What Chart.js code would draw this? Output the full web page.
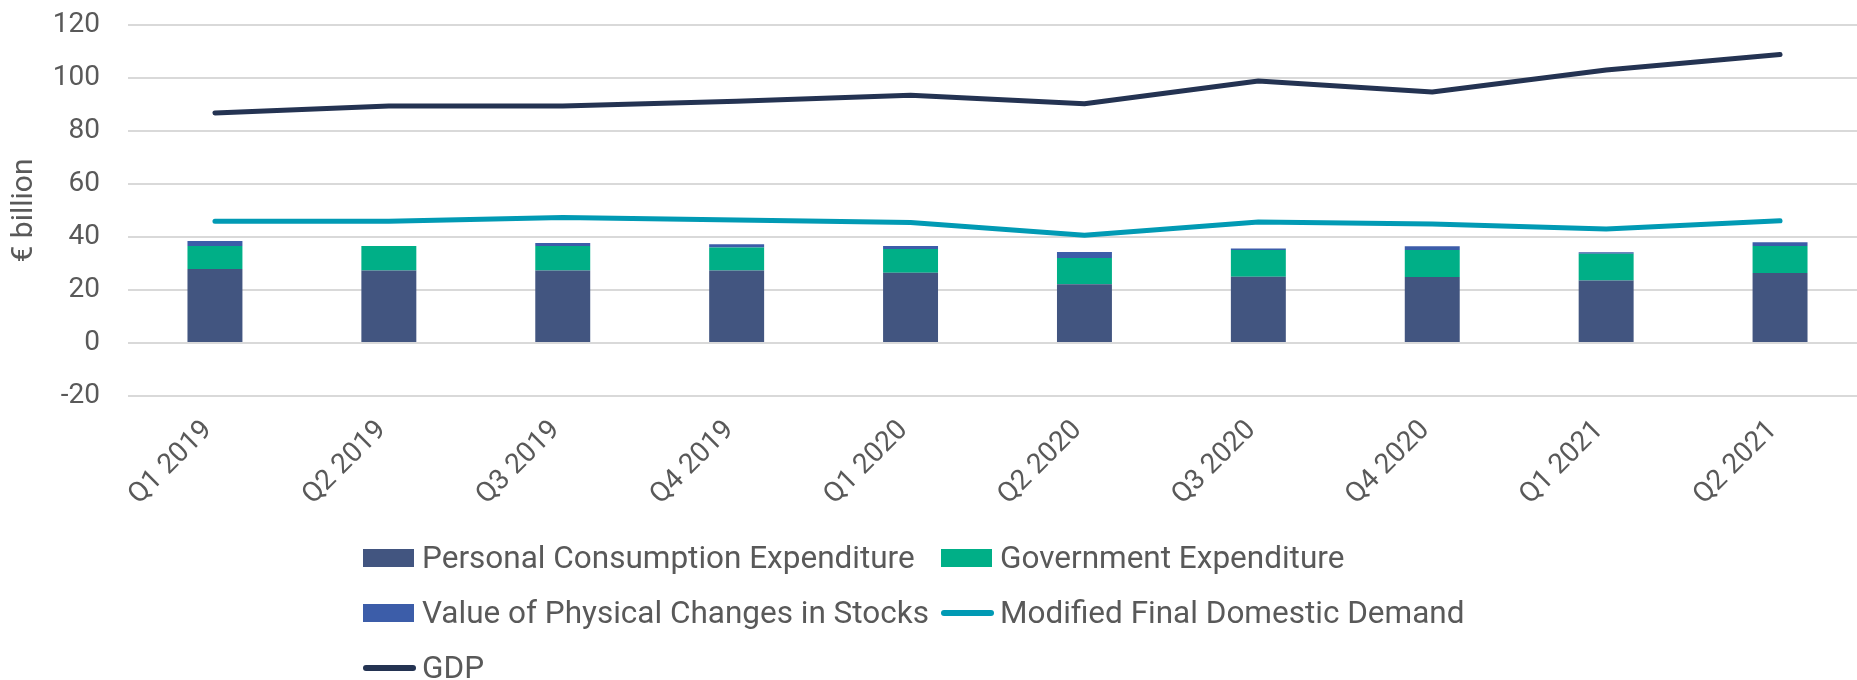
<!DOCTYPE html>
<html>
<head>
<meta charset="utf-8">
<script src="https://cdn.jsdelivr.net/npm/chart.js@4/dist/chart.umd.min.js"></script>
<style>
    body { margin: 0; background: #fff; }
    #wrap { position: relative; width: 1857px; height: 680px; overflow: hidden; }
    #chart { position: absolute; left: 0; top: 0; }
    .leg { position: absolute; font-family: Roboto, sans-serif; font-size: 31.5px; color: #595959; white-space: nowrap; line-height: 36px; }
    .leg .sw { position: absolute; left: 0; }
    .leg span.txt { position: absolute; left: 59px; top: -18px; }
</style>
</head>
<body>
<div id="wrap">
    <canvas id="chart" width="1867" height="680"></canvas>
    <div id="legend"></div>
</div>
<script>
const quarters = ['Q1 2019', 'Q2 2019', 'Q3 2019', 'Q4 2019', 'Q1 2020', 'Q2 2020', 'Q3 2020', 'Q4 2020', 'Q1 2021', 'Q2 2021'];

// € billion
const consumption = [27.9, 27.4, 27.4, 27.4, 26.5, 22.2, 25.0, 24.9, 23.6, 26.4];
const government  = [8.7, 9.2, 9.2, 8.6, 9.0, 9.9, 10.1, 10.2, 10.1, 10.2];
const stocks      = [1.9, 0, 1.1, 1.3, 1.1, 2.2, 0.6, 1.4, 0.5, 1.4];
const mfdd        = [45.9, 45.9, 47.4, 46.4, 45.5, 40.7, 45.7, 44.9, 43.0, 46.1];
const gdp         = [86.8, 89.4, 89.4, 91.2, 93.5, 90.3, 98.9, 94.7, 103.0, 108.9];

const yTicks = [-20, 0, 20, 40, 60, 80, 100, 120];

const names = ['Personal Consumption Expenditure', 'Government Expenditure', 'Value of Physical Changes in Stocks', 'Modified Final Domestic Demand', 'GDP'];
const colors = ['#425580', '#00AF87', '#3C5DA9', '#019AB4', '#243352'];

const grey = '#595959';
const font = 'Roboto';

function barSet(i, data) {
    return {
        type: 'bar',
        label: names[i],
        data: data,
        backgroundColor: colors[i],
        borderWidth: 0,
        stack: 'parts',
        order: 2,
        categoryPercentage: 1,
        barPercentage: 0.316
    };
}

function lineSet(i, data) {
    return {
        type: 'line',
        label: names[i],
        data: data,
        borderColor: colors[i],
        backgroundColor: colors[i],
        borderWidth: 5,
        borderCapStyle: 'round',
        borderJoinStyle: 'round',
        pointRadius: 0,
        tension: 0,
        stack: 'line' + i,
        order: 1
    };
}

const ctx = document.getElementById('chart');

new Chart(ctx, {
    data: {
        labels: quarters,
        datasets: [
            barSet(0, consumption),
            barSet(1, government),
            barSet(2, stocks),
            lineSet(3, mfdd),
            lineSet(4, gdp)
        ]
    },
    options: {
        responsive: false,
        animation: false,
        layout: { padding: { top: 25, left: 0, right: 0, bottom: 0 } },
        plugins: {
            legend: { display: false },
            tooltip: { enabled: false }
        },
        scales: {
            x: {
                stacked: true,
                grid: { display: false },
                border: { display: false },
                ticks: {
                    color: grey,
                    font: { family: font, size: 28 },
                    minRotation: 45,
                    maxRotation: 45,
                    padding: 10,
                    labelOffset: -7
                },
                afterFit: (scale) => { scale.height = 284; }
            },
            y: {
                stacked: true,
                min: yTicks[0],
                max: yTicks[yTicks.length - 1],
                afterBuildTicks: (scale) => { scale.ticks = yTicks.map(v => ({ value: v })); },
                grid: { color: '#d9d9d9', lineWidth: 2, drawTicks: false },
                border: { display: false },
                ticks: {
                    color: grey,
                    font: { family: font, size: 28 },
                    padding: 28
                },
                title: {
                    display: true,
                    text: '€ billion',
                    color: grey,
                    font: { family: font, size: 30 },
                    padding: { top: 6, bottom: 0 }
                },
                afterFit: (scale) => {
                    scale.width = 128;
                    // tick padding would otherwise push the plot top down
                    scale.paddingTop = 0;
                    scale.paddingBottom = 0;
                }
            }
        }
    }
});

// legend laid out like the original (3 rows, 2 columns)
const legendPos = [[363, 558], [941, 558], [363, 613], [941, 613], [363, 668]];
const legend = document.getElementById('legend');
names.forEach((name, i) => {
    const item = document.createElement('div');
    item.className = 'leg';
    item.style.left = legendPos[i][0] + 'px';
    item.style.top = legendPos[i][1] + 'px';
    const sw = document.createElement('div');
    sw.className = 'sw';
    if (i < 3) {
        sw.style.cssText = 'width:51px;height:18px;top:-9px;background:' + colors[i];
    } else {
        sw.style.cssText = 'width:53px;height:6px;top:-3px;border-radius:3px;background:' + colors[i];
    }
    const txt = document.createElement('span');
    txt.className = 'txt';
    txt.textContent = name;
    item.appendChild(sw);
    item.appendChild(txt);
    legend.appendChild(item);
});
</script>
</body>
</html>
